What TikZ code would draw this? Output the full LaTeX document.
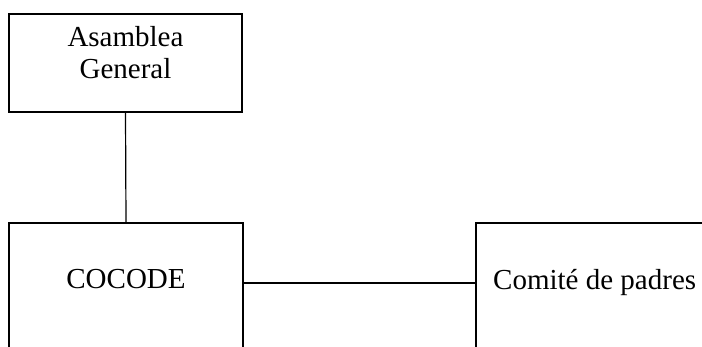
\documentclass[tikz,border=0pt]{standalone}
\usepackage{fontspec}
\setmainfont{Liberation Serif}
\usetikzlibrary{positioning}

\tikzset{
	orgBox/.style={draw, line width=1.2pt, rectangle, inner sep=0pt},
	orgText/.style={inner sep=0pt, font=\fontsize{29}{32}\selectfont},
	orgLink/.style={line width=1.2pt}
}

\begin{document}
\begin{tikzpicture}[x=1pt, y=-1pt]

	% Page frame, the lower boxes run past its edge.
	\clip (0,0) rectangle (702,347);
	\useasboundingbox (0,0) rectangle (702,347);

	% Boxes.
	\node[orgBox, minimum width=233pt, minimum height=98pt] (asamblea) at (125.5,63) {};
	\node[orgBox, minimum width=234pt, minimum height=200pt] (cocode) at (126,323) {};
	\node[orgBox, minimum width=260pt, minimum height=200pt] (padres) at (606,323) {};

	% Texts.
	\node[orgText, anchor=north, align=center] (asambleaText) at (125.5,26.5) {Asamblea\\General};
	\node[orgText, anchor=base] (cocodeText) at (126,289) {COCODE};
	\node[orgText, anchor=base west] (padresText) at (493,290) {Comité de padres};

	% Links.
	\coordinate (linkRow) at (360,283);
	\draw[orgLink] (asamblea.south) -- (cocode.north);
	\draw[orgLink] (cocode.east |- linkRow) -- (padres.west |- linkRow);

\end{tikzpicture}
\end{document}
